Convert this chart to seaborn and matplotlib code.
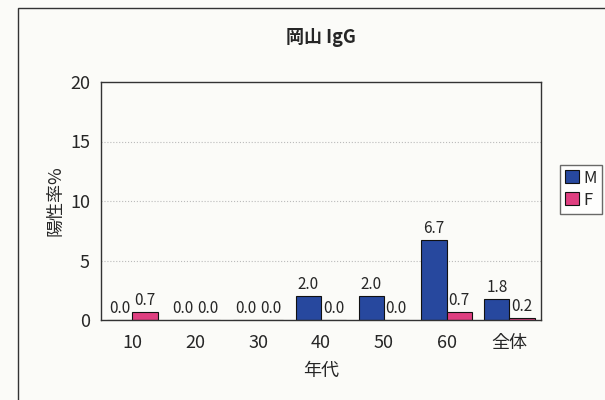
import pandas as pd
import seaborn as sns
import matplotlib.pyplot as plt
from matplotlib.patches import Rectangle

# Data
ages = ["10", "20", "30", "40", "50", "60", "全体"]
male = [0.0, 0.0, 0.0, 2.0, 2.0, 6.7, 1.8]
female = [0.7, 0.0, 0.0, 0.0, 0.0, 0.7, 0.2]

df = pd.DataFrame({
    "年代": ages * 2,
    "陽性率": male + female,
    "性別": ["M"] * len(ages) + ["F"] * len(ages),
})

sns.set_style("white")
plt.rcParams['font.family'] = ['Noto Sans CJK JP', 'DejaVu Sans']

fig = plt.figure(figsize=(6.05, 4), dpi=100, facecolor="#fbfbf8")
ax = fig.add_axes([0.167, 0.2, 0.727, 0.595])
ax.set_facecolor("#fbfbf8")

sns.barplot(data=df, x="年代", y="陽性率", hue="性別", order=ages,
            palette={"M": "#27489e", "F": "#df3f80"}, saturation=1,
            edgecolor="#111111", linewidth=0.8, width=0.8, ax=ax)

for cont in ax.containers:
    ax.bar_label(cont, fmt="%.1f", padding=2, fontsize=11)

ax.set_ylim(0, 20)
ax.set_yticks([0, 5, 10, 15, 20])
for y in [5, 10, 15]:
    ax.axhline(y, color="#bbbbbb", linestyle=":", linewidth=0.8, zorder=0)

ax.tick_params(axis="both", labelsize=13, length=0)
ax.tick_params(axis="x", pad=10)
ax.tick_params(axis="y", pad=8)
ax.set_xlabel("年代", fontsize=13, labelpad=7)
ax.set_ylabel("陽性率%", fontsize=13, labelpad=4)
for s in ax.spines.values():
    s.set_color("#333333")
    s.set_linewidth(1.0)

fig.text(0.53, 0.907, "岡山 IgG", ha="center", va="center", fontsize=13, fontweight="bold")

leg = ax.legend(loc="center left", bbox_to_anchor=(1.025, 0.55), fontsize=12,
                frameon=True, fancybox=False, edgecolor="#444444",
                handlelength=0.8, handleheight=0.8, handletextpad=0.3,
                borderpad=0.3, labelspacing=0.3)
leg.get_frame().set_linewidth(1.0)

# outer frame of chart area
fig.patches.append(Rectangle((0.03, -0.1), 1.2, 1.08, transform=fig.transFigure,
                             fill=False, edgecolor="#333333", linewidth=1.0))

fig.savefig("out.png", dpi=100, facecolor=fig.get_facecolor())
